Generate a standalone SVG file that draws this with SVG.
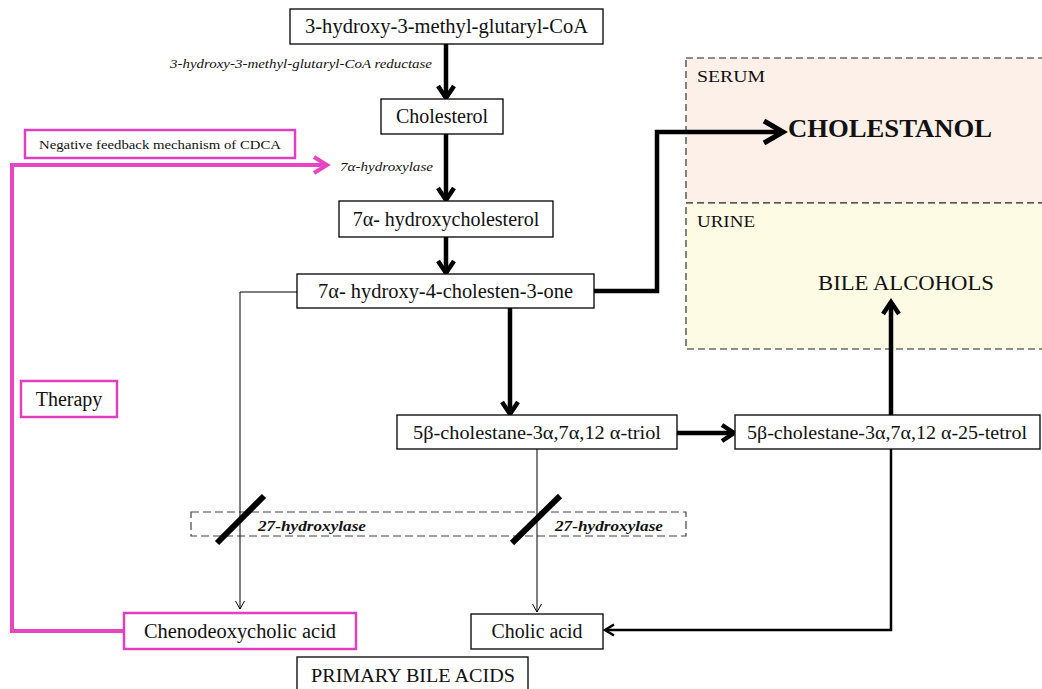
<svg xmlns="http://www.w3.org/2000/svg" width="1042" height="689" viewBox="0 0 1042 689">
<style>
.box{fill:#fff;stroke:#000;stroke-width:1.3}
.pbox{fill:#fff;stroke:#e040c0;stroke-width:2.5}
.t{font-family:"Liberation Serif","Times New Roman",serif;fill:#111}
.bt{font-size:20px}
.it{font-style:italic}
.thick{fill:none;stroke:#000;stroke-width:4.5}
.thin{fill:none;stroke:#000;stroke-width:1}
.pink{fill:none;stroke:#e844c4;stroke-width:4}
.dash{stroke:#222;stroke-width:1.1;stroke-dasharray:7,4}
.dash2{stroke:#444;stroke-width:1.2;stroke-dasharray:8,4}
</style>
<defs>
<marker id="ah" viewBox="0 0 20 20" refX="15" refY="10" markerWidth="20" markerHeight="20" markerUnits="userSpaceOnUse" orient="auto"><path d="M3,2 L15,10 L3,18" fill="none" stroke="#000" stroke-width="4.5"/></marker>
<marker id="ahbig" viewBox="0 0 28 28" refX="22" refY="14" markerWidth="28" markerHeight="28" markerUnits="userSpaceOnUse" orient="auto"><path d="M3,3 L22,14 L3,25" fill="none" stroke="#000" stroke-width="5"/></marker>
<marker id="ahpink" viewBox="0 0 20 20" refX="16" refY="10" markerWidth="20" markerHeight="20" markerUnits="userSpaceOnUse" orient="auto"><path d="M3,2 L16,10 L3,18" fill="none" stroke="#e844c4" stroke-width="4"/></marker>
<marker id="ahthin" viewBox="0 0 12 12" refX="10" refY="6" markerWidth="12" markerHeight="12" markerUnits="userSpaceOnUse" orient="auto"><path d="M2,1.5 L10,6 L2,10.5" fill="none" stroke="#000" stroke-width="1"/></marker>
<marker id="ahmed" viewBox="0 0 14 14" refX="12" refY="7" markerWidth="14" markerHeight="14" markerUnits="userSpaceOnUse" orient="auto"><path d="M3,1.5 L12,7 L3,12.5" fill="none" stroke="#000" stroke-width="2.5"/></marker>
</defs>
<rect width="1042" height="689" fill="#fff"/>

<g id="serum">
<rect x="686" y="58" width="360" height="145" fill="#fcf0e8" class="dash"/>
<text class="t" x="697" y="82" font-size="17" textLength="68" lengthAdjust="spacingAndGlyphs">SERUM</text>
<text class="t" x="788" y="137" font-size="26" font-weight="bold" textLength="204" lengthAdjust="spacingAndGlyphs">CHOLESTANOL</text>
</g>
<g id="urine">
<rect x="686" y="203" width="360" height="146" fill="#fdfbe4" class="dash"/>
<text class="t" x="697" y="227" font-size="17" textLength="58" lengthAdjust="spacingAndGlyphs">URINE</text>
<text class="t" x="818" y="290" font-size="20" textLength="176" lengthAdjust="spacingAndGlyphs">BILE ALCOHOLS</text>
</g>

<g id="hydroxylase27">
<rect x="191" y="512" width="495" height="24" fill="none" class="dash2"/>
<text class="t it" x="258" y="531" font-size="15" font-weight="bold" textLength="108" lengthAdjust="spacingAndGlyphs">27-hydroxylase</text>
<text class="t it" x="555" y="531" font-size="15" font-weight="bold" textLength="108" lengthAdjust="spacingAndGlyphs">27-hydroxylase</text>
</g>

<g id="connectors">
<line class="thick" x1="446" y1="44" x2="446" y2="98" marker-end="url(#ah)"/>
<line class="thick" x1="446" y1="134" x2="446" y2="200" marker-end="url(#ah)"/>
<line class="thick" x1="446" y1="237" x2="446" y2="273" marker-end="url(#ah)"/>
<polyline class="thick" points="594,291 657,291 657,132 783,132" marker-end="url(#ahbig)"/>
<line class="thick" x1="510" y1="308" x2="510" y2="414" marker-end="url(#ah)"/>
<line class="thick" x1="677" y1="433" x2="734" y2="433" marker-end="url(#ah)"/>
<line class="thick" x1="891" y1="415" x2="891" y2="302" marker-end="url(#ah)"/>
<polyline class="thin" points="297,292 240,292 240,609" marker-end="url(#ahthin)"/>
<line class="thin" x1="537" y1="449" x2="537" y2="612" marker-end="url(#ahthin)"/>
<polyline fill="none" stroke="#000" stroke-width="2.5" points="891,449 891,630 605,630" marker-end="url(#ahmed)"/>
<polyline class="pink" points="124,631 12,631 12,165 327,165" marker-end="url(#ahpink)"/>
<line stroke="#000" stroke-width="6" x1="217" y1="543" x2="264" y2="496"/>
<line stroke="#000" stroke-width="6" x1="512" y1="543" x2="560" y2="496"/>
</g>

<g id="labels">
<text class="t it" x="170" y="68" font-size="13" textLength="262" lengthAdjust="spacingAndGlyphs">3-hydroxy-3-methyl-glutaryl-CoA reductase</text>
<text class="t it" x="340" y="171" font-size="13" textLength="93" lengthAdjust="spacingAndGlyphs">7α-hydroxylase</text>
</g>

<g id="hmgcoa">
<rect class="box" x="290" y="9" width="313" height="35"/>
<text class="t bt" x="446.5" y="33" text-anchor="middle" textLength="283" lengthAdjust="spacingAndGlyphs">3-hydroxy-3-methyl-glutaryl-CoA</text>
</g>
<g id="cholesterol">
<rect class="box" x="381" y="99" width="122" height="35"/>
<text class="t bt" x="442" y="123" text-anchor="middle">Cholesterol</text>
</g>
<g id="feedback">
<rect class="pbox" x="25" y="130" width="270" height="28"/>
<text class="t" x="160" y="149" font-size="12.5" text-anchor="middle" textLength="242" lengthAdjust="spacingAndGlyphs">Negative feedback mechanism of CDCA</text>
</g>
<g id="hydroxycholesterol">
<rect class="box" x="339" y="201" width="214" height="36"/>
<text class="t bt" x="446" y="226" text-anchor="middle">7α- hydroxycholesterol</text>
</g>
<g id="cholestenone">
<rect class="box" x="297" y="274" width="297" height="34"/>
<text class="t bt" x="445.5" y="298" text-anchor="middle" textLength="255" lengthAdjust="spacingAndGlyphs">7α- hydroxy-4-cholesten-3-one</text>
</g>
<g id="therapy">
<rect class="pbox" x="21" y="381" width="96" height="36"/>
<text class="t bt" x="69" y="406" text-anchor="middle">Therapy</text>
</g>
<g id="triol">
<rect class="box" x="397" y="415" width="280" height="34"/>
<text class="t" x="537" y="439" font-size="19" text-anchor="middle" textLength="248" lengthAdjust="spacingAndGlyphs">5β-cholestane-3α,7α,12 α-triol</text>
</g>
<g id="tetrol">
<rect class="box" x="735" y="415" width="305" height="34"/>
<text class="t" x="887" y="439" font-size="19" text-anchor="middle" textLength="280" lengthAdjust="spacingAndGlyphs">5β-cholestane-3α,7α,12 α-25-tetrol</text>
</g>
<g id="cdca">
<rect class="pbox" x="124" y="613" width="232" height="36"/>
<text class="t bt" x="240" y="638" text-anchor="middle" textLength="192" lengthAdjust="spacingAndGlyphs">Chenodeoxycholic acid</text>
</g>
<g id="cholic">
<rect class="box" x="471" y="614" width="132" height="35"/>
<text class="t bt" x="537" y="638" text-anchor="middle" textLength="91" lengthAdjust="spacingAndGlyphs">Cholic acid</text>
</g>
<g id="primary">
<rect class="box" x="297" y="657" width="231" height="40"/>
<text class="t" x="413" y="682" font-size="19" text-anchor="middle" textLength="204" lengthAdjust="spacingAndGlyphs">PRIMARY BILE ACIDS</text>
</g>
</svg>
